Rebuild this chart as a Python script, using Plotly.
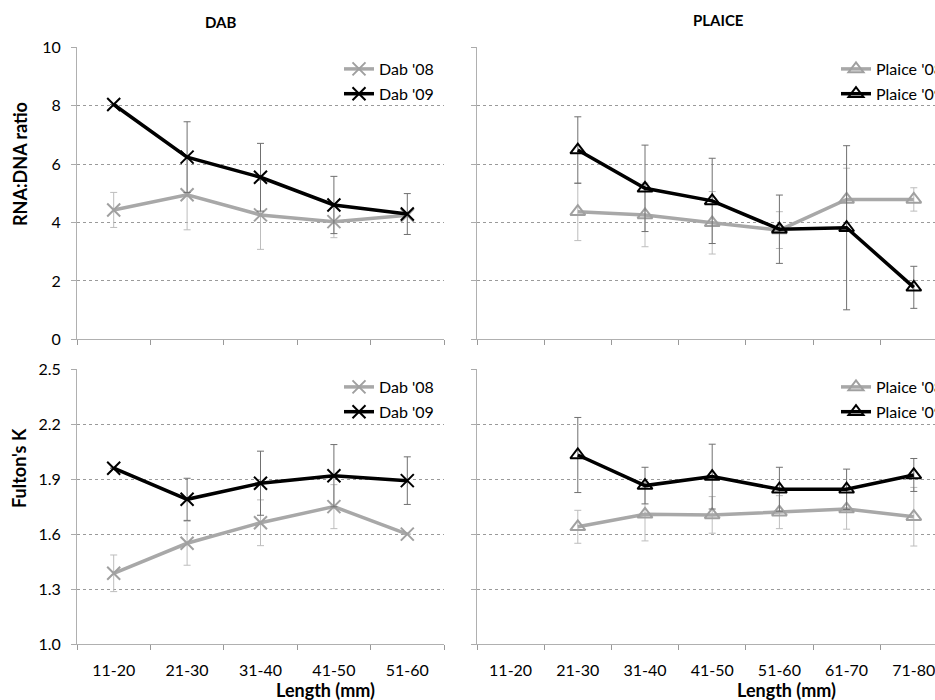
import plotly.graph_objects as go

FONT = "Lato"
W, H = 935, 700

dab_len = ["11-20", "21-30", "31-40", "41-50", "51-60"]
plaice_len = ["11-20", "21-30", "31-40", "41-50", "51-60", "61-70", "71-80"]
plaice_data_len = plaice_len[1:]

# RNA:DNA ratio
dab08_rna = [4.43, 4.95, 4.26, 4.03, 4.25]
dab08_rna_err = [0.6, 1.2, 1.18, 0.55, 0.05]
dab09_rna = [8.04, 6.24, 5.55, 4.60, 4.29]
dab09_rna_err = [0, 1.21, 1.16, 0.98, 0.70]

plaice08_rna = [4.37, 4.26, 3.99, 3.74, 4.79, 4.79]
plaice08_rna_err = [0.99, 1.09, 1.07, 0.63, 1.07, 0.40]
plaice09_rna = [6.48, 5.17, 4.74, 3.77, 3.82, 1.78]
plaice09_rna_err = [1.14, 1.48, 1.46, 1.17, 2.81, 0.72]

# Fulton's K
dab08_k = [1.386, 1.55, 1.662, 1.75, 1.60]
dab08_k_err = [0.10, 0.12, 0.125, 0.12, 0.0]
dab09_k = [1.96, 1.79, 1.878, 1.919, 1.892]
dab09_k_err = [0, 0.115, 0.175, 0.17, 0.13]

plaice08_k = [1.64, 1.708, 1.705, 1.72, 1.737, 1.695]
plaice08_k_err = [0.09, 0.145, 0.10, 0.09, 0.11, 0.16]
plaice09_k = [2.032, 1.865, 1.914, 1.845, 1.845, 1.923]
plaice09_k_err = [0.205, 0.10, 0.177, 0.12, 0.11, 0.09]

GREY_LINE = "#a8a8a8"
GREY_MARK = "#a0a0a0"
ERR09 = "#707070"
ERR08 = "#bdbdbd"


def px_x(p):
    return p / W


def px_y(p):
    return 1 - p / H


fig = go.Figure()


def add_series(x, y, err, name, year, symbol, xa, ya, legend):
    if year == "08":
        color_line, color_mark, ecol = GREY_LINE, GREY_MARK, ERR08
    else:
        color_line, color_mark, ecol = "#000000", "#000000", ERR09
    fig.add_trace(go.Scatter(
        x=x, y=y, name=name, mode="lines+markers",
        xaxis=xa, yaxis=ya, legend=legend, legendgroup=legend + name,
        line=dict(color=color_line, width=3.5),
        marker=dict(symbol=symbol, size=13, color=color_mark,
                    line=dict(color=color_mark, width=2)),
        error_y=dict(type="data", array=err, symmetric=True,
                     color=ecol, thickness=1, width=3.5),
        cliponaxis=False,
    ))


add_series(dab_len, dab08_rna, dab08_rna_err, "Dab '08", "08", "x-thin-open", "x", "y", "legend")
add_series(dab_len, dab09_rna, dab09_rna_err, "Dab '09", "09", "x-thin-open", "x", "y", "legend")
add_series(plaice_data_len, plaice08_rna, plaice08_rna_err, "Plaice '08", "08", "triangle-up-open", "x2", "y2", "legend2")
add_series(plaice_data_len, plaice09_rna, plaice09_rna_err, "Plaice '09", "09", "triangle-up-open", "x2", "y2", "legend2")
add_series(dab_len, dab08_k, dab08_k_err, "Dab '08", "08", "x-thin-open", "x3", "y3", "legend3")
add_series(dab_len, dab09_k, dab09_k_err, "Dab '09", "09", "x-thin-open", "x3", "y3", "legend3")
add_series(plaice_data_len, plaice08_k, plaice08_k_err, "Plaice '08", "08", "triangle-up-open", "x4", "y4", "legend4")
add_series(plaice_data_len, plaice09_k, plaice09_k_err, "Plaice '09", "09", "triangle-up-open", "x4", "y4", "legend4")

left_dom = [px_x(77), px_x(444)]
right_dom = [px_x(477), 1.0]
top_dom = [px_y(339.3), px_y(47.3)]
bot_dom = [px_y(644), px_y(369.3)]

right_range_end = 6.5 - (947.4 - 935) / 67.2

xcommon = dict(type="category", tickson="boundaries", ticks="outside", ticklen=5,
               tickcolor="#999999", showline=True, linecolor="#b0b0b0", linewidth=1,
               showgrid=False, zeroline=False,
               tickfont=dict(family=FONT, size=16, color="#000"), ticklabelstandoff=12)
ycommon = dict(showgrid=True, gridcolor="#9a9a9a", griddash="dot", gridwidth=1,
               ticks="outside", ticklen=5, tickcolor="#aaaaaa", showline=True,
               linecolor="#b0b0b0", linewidth=1, zeroline=False,
               tickfont=dict(family=FONT, size=16, color="#000"), ticklabelstandoff=7)

fig.update_layout(
    width=W, height=H,
    margin=dict(l=0, r=0, t=0, b=0, autoexpand=False),
    paper_bgcolor="white", plot_bgcolor="white",
    font=dict(family=FONT, color="#000"),
    xaxis=dict(xcommon, domain=left_dom, anchor="y", categoryarray=dab_len,
               range=[-0.5, 4.5], showticklabels=False),
    yaxis=dict(ycommon, domain=top_dom, anchor="x", range=[0, 10], dtick=2, tick0=0),
    xaxis2=dict(xcommon, domain=right_dom, anchor="y2", categoryarray=plaice_len,
                range=[-0.5, right_range_end], showticklabels=False),
    yaxis2=dict(ycommon, domain=top_dom, anchor="x2", range=[0, 10], dtick=2, tick0=0,
                showticklabels=False),
    xaxis3=dict(xcommon, domain=left_dom, anchor="y3", categoryarray=dab_len,
                range=[-0.5, 4.5]),
    yaxis3=dict(ycommon, domain=bot_dom, anchor="x3", range=[1.0, 2.5], dtick=0.3,
                tick0=1.0, tickformat=".1f"),
    xaxis4=dict(xcommon, domain=right_dom, anchor="y4", categoryarray=plaice_len,
                range=[-0.5, right_range_end]),
    yaxis4=dict(ycommon, domain=bot_dom, anchor="x4", range=[1.0, 2.5], dtick=0.3,
                tick0=1.0, showticklabels=False),
)

leg = dict(xanchor="left", yanchor="top", bgcolor="rgba(0,0,0,0)", borderwidth=0,
           font=dict(family=FONT, size=16, color="#000"), traceorder="grouped",
           tracegroupgap=1, itemwidth=30)
fig.update_layout(
    legend=dict(leg, x=px_x(339), y=px_y(52)),
    legend2=dict(leg, x=px_x(836), y=px_y(52)),
    legend3=dict(leg, x=px_x(339), y=px_y(370)),
    legend4=dict(leg, x=px_x(836), y=px_y(370)),
)


def label(text, xp, yp, size, angle=0):
    return dict(text=text, x=px_x(xp), y=px_y(yp), xref="paper", yref="paper",
                xanchor="center", yanchor="middle", showarrow=False,
                textangle=angle, font=dict(family=FONT, size=size, color="#000"))


fig.update_layout(annotations=[
    label("<b>DAB</b>", 220, 22, 15),
    label("<b>PLAICE</b>", 718, 20, 15),
    label("<b>RNA:DNA ratio</b>", 20, 164, 18, -90),
    label("<b>Fulton's K</b>", 19, 468, 18, -90),
    label("<b>Length (mm)</b>", 325, 690, 18),
    label("<b>Length (mm)</b>", 786, 690, 18),
])

fig.write_html(
    "out.html",
    config={"displayModeBar": False},
    post_script="document.body.style.margin='0';document.body.style.overflow='hidden';",
)
